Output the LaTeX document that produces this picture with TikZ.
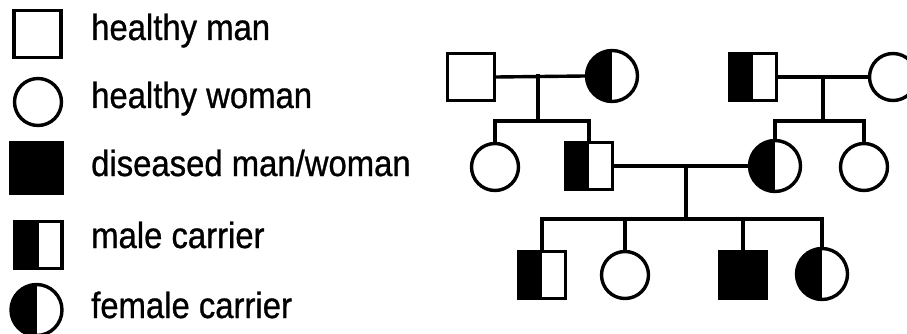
\documentclass[tikz,border=0pt]{standalone}
\usepackage{fontspec}
\setmainfont{Liberation Sans}
\newfontfamily\legfont[FakeStretch=0.9, FakeBold=0.8]{Liberation Sans}
\tikzset{
  lw/.style={line width=3.4pt},
  man/.style={rectangle, draw, lw, minimum size=47pt, inner sep=0pt, fill=white},
  woman/.style={circle, draw, lw, minimum size=47pt, inner sep=0pt, fill=white},
  bigwoman/.style={woman, minimum size=51pt},
  sick/.style={fill=black},
  halfcarrier/.style={path picture={\fill[black] (path picture bounding box.south west) rectangle (path picture bounding box.north);}},
  link/.style={lw, line cap=rect},
  legtext/.style={anchor=base west, inner sep=0pt, font=\legfont\fontsize{36.5}{42}\selectfont}
}
\begin{document}
\begin{tikzpicture}[x=1pt, y=-1pt]
\useasboundingbox (0,0) rectangle (907,334);
\clip (0,0) rectangle (907,334);

% legend symbols
\node[man] (lgman) at (37.5,34) {};
\node[woman] (lgwoman) at (38,102) {};
\node[man, sick, minimum size=51pt] (lgsick) at (36.5,168) {};
\node[man, halfcarrier] (lgmc) at (38.5,245) {};
\node[bigwoman, halfcarrier] (lgfc) at (36.5,310) {};

% legend captions
\node[legtext] (tman) at (91,40) {healthy man};
\node[legtext] (twoman) at (91,108) {healthy woman};
\node[legtext] (tsick) at (91,176) {diseased man/woman};
\node[legtext] (tmc) at (91,248) {male carrier};
\node[legtext] (tfc) at (91,318) {female carrier};

% generation I
\node[man] (ia) at (471,77) {};
\node[bigwoman, halfcarrier] (ib) at (612,76) {};
\node[man, halfcarrier] (ic) at (753,77) {};
\node[woman] (id) at (893,77) {};

% generation II
\node[woman] (iia) at (495,167) {};
\node[man, halfcarrier] (iib) at (589,166) {};
\node[bigwoman, halfcarrier] (iic) at (775,166) {};
\node[woman] (iid) at (864,167) {};

% generation III
\node[man, halfcarrier] (iiia) at (542,275) {};
\node[woman] (iiib) at (625,275) {};
\node[man, sick] (iiic) at (743,275) {};
\node[bigwoman, halfcarrier] (iiid) at (822,274) {};

% junction points
\coordinate (m1) at (538,76);
\coordinate (s1) at (538,121);
\coordinate (m2) at (823,77);
\coordinate (s2) at (823,121);
\coordinate (m3) at (686,166);
\coordinate (s3) at (686,219);

% couples and sibships, left family
\draw[link] (ia.east) -- (ib.west);
\draw[link] (m1) -- (s1);
\draw[link] (s1) -| (iia.north);
\draw[link] (s1) -| (iib.north);

% couple and sibship, right family
\draw[link] (ic.east |- m2) -- (id.west |- m2);
\draw[link] (m2) -- (s2);
\draw[link] (s2) -| (iic.north);
\draw[link] (s2) -| (iid.north);

% second-generation couple and children
\draw[link] (iib.east) -- (iic.west);
\draw[link] (m3) -- (s3);
\draw[link] (s3) -| (iiia.north);
\draw[link] (s3) -| (iiib.north);
\draw[link] (s3) -| (iiic.north);
\draw[link] (s3) -| (iiid.north);
\end{tikzpicture}
\end{document}
